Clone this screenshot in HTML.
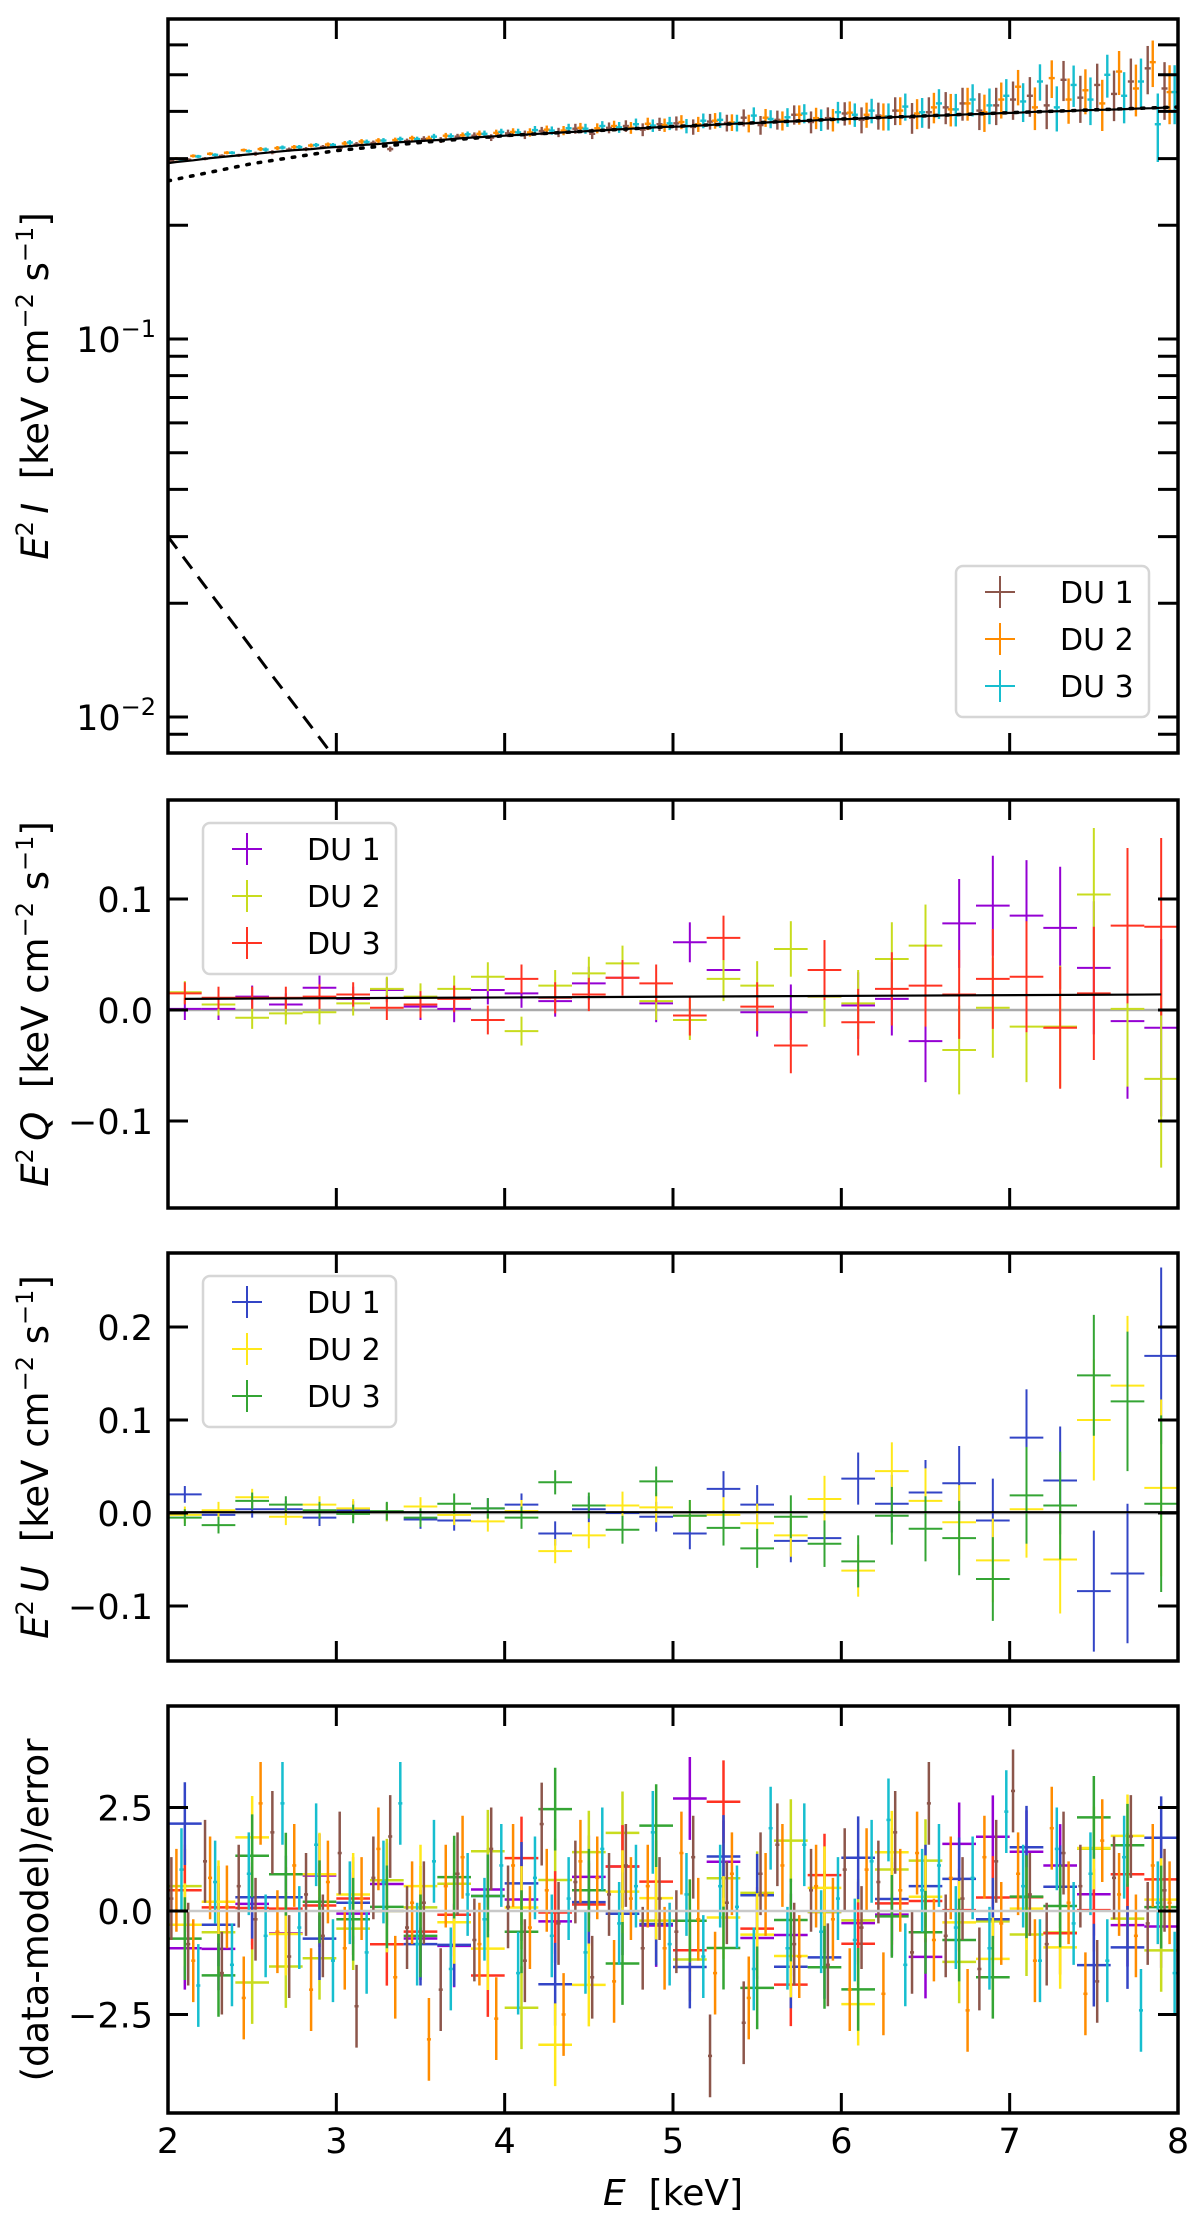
<!DOCTYPE html>
<html><head><meta charset="utf-8">
<style>
html,body{margin:0;padding:0;background:#fff;}
svg{display:block;font-family:"DejaVu Sans","Liberation Sans",sans-serif;}
</style></head>
<body>
<svg id="fig" width="1200" height="2221" viewBox="0 0 1200 2221" xmlns="http://www.w3.org/2000/svg">
<defs>
<clipPath id="c1"><rect x="168" y="19" width="1010" height="734"/></clipPath>
<clipPath id="c2"><rect x="168" y="800" width="1010" height="408"/></clipPath>
<clipPath id="c3"><rect x="168" y="1253" width="1010" height="408"/></clipPath>
<clipPath id="c4"><rect x="168" y="1706" width="1010" height="407"/></clipPath>
</defs>
</svg>
<script>
// ---------- data ----------
const energyI = [2.05,2.15,2.25,2.35,2.45,2.55,2.65,2.75,2.85,2.95,3.05,3.15,3.25,3.35,3.45,3.55,3.65,3.75,3.85,3.95,4.05,4.15,4.25,4.35,4.45,4.55,4.65,4.75,4.85,4.95,5.05,5.15,5.25,5.35,5.45,5.55,5.65,5.75,5.85,5.95,6.05,6.15,6.25,6.35,6.45,6.55,6.65,6.75,6.85,6.95,7.05,7.15,7.25,7.35,7.45,7.55,7.65,7.75,7.85,7.95];
const modelI = [.294,.297,.301,.304,.307,.310,.313,.316,.318,.321,.323,.326,.328,.331,.333,.335,.337,.340,.342,.344,.346,.348,.350,.352,.354,.356,.358,.360,.362,.364,.365,.367,.369,.371,.372,.374,.376,.377,.379,.381,.382,.384,.385,.387,.388,.390,.391,.393,.394,.396,.397,.399,.400,.401,.403,.404,.405,.407,.408,.410];
const iDU1 = [.296,.298,.300,.305,.306,.309,.312,.317,.318,.322,.320,.327,.330,.318,.334,.338,.336,.343,.345,.341,.350,.347,.355,.352,.360,.349,.362,.366,.358,.370,.372,.364,.376,.373,.385,.368,.380,.392,.375,.384,.395,.380,.390,.402,.385,.398,.410,.420,.402,.415,.430,.440,.415,.485,.435,.470,.445,.480,.520,.460];
const iDU2 = [.300,.305,.309,.311,.316,.318,.320,.322,.325,.327,.329,.333,.335,.336,.340,.339,.345,.346,.349,.351,.353,.352,.358,.356,.362,.361,.366,.362,.371,.368,.375,.370,.378,.374,.372,.385,.378,.392,.384,.380,.397,.392,.388,.402,.395,.410,.405,.420,.398,.430,.465,.410,.490,.430,.455,.420,.510,.460,.540,.450];
const iDU3 = [.299,.304,.307,.311,.314,.317,.321,.322,.326,.326,.331,.332,.335,.338,.338,.343,.344,.348,.349,.353,.352,.357,.356,.361,.360,.366,.363,.370,.367,.372,.366,.378,.380,.373,.390,.382,.386,.395,.380,.398,.392,.402,.388,.412,.398,.420,.405,.430,.415,.440,.425,.480,.410,.470,.430,.500,.440,.480,.370,.450];
const errI = [.003,.003,.003,.003,.003,.004,.004,.004,.004,.004,.005,.005,.005,.005,.005,.006,.006,.006,.007,.007,.008,.009,.009,.010,.011,.011,.012,.013,.014,.015,.016,.017,.018,.019,.020,.021,.022,.023,.025,.026,.028,.030,.032,.034,.036,.038,.040,.042,.045,.047,.050,.053,.056,.059,.062,.065,.068,.072,.076,.080];
const dottedE = [2.0,2.5,3.0,3.5,4.0,5.0,6.0,7.0,8.0];
const dottedV = [0.262,0.291,0.315,0.331,0.345,0.365,0.382,0.397,0.411];
const dashedE = [2.0,2.2,2.4,2.6,2.8,3.0];
const dashedV = [0.030,0.0228,0.0174,0.0132,0.0101,0.0077];

const energyP = [2.1,2.3,2.5,2.7,2.9,3.1,3.3,3.5,3.7,3.9,4.1,4.3,4.5,4.7,4.9,5.1,5.3,5.5,5.7,5.9,6.1,6.3,6.5,6.7,6.9,7.1,7.3,7.5,7.7,7.9];
const qDU1 = [0.001,0.001,0.012,0.005,0.020,0.010,0.018,0.003,0.001,0.018,0.015,0.008,0.024,0.029,0.006,0.061,0.036,-0.002,-0.002,0.012,0.004,0.010,-0.028,0.078,0.094,0.085,0.074,0.038,-0.010,-0.016];
const qDU2 = [0.016,0.005,-0.007,-0.003,-0.002,0.006,0.019,0.012,0.019,0.030,-0.019,0.022,0.033,0.042,0.008,-0.009,0.028,0.022,0.055,0.012,0.006,0.046,0.058,-0.036,0.002,-0.015,-0.015,0.104,0.001,-0.062];
const qDU3 = [0.015,0.011,0.011,0.011,0.012,0.014,0.002,0.005,0.010,-0.009,0.028,0.011,0.014,0.029,0.024,-0.005,0.065,0.003,-0.032,0.036,-0.011,0.019,0.022,0.014,0.028,0.030,-0.016,0.015,0.076,0.075];
const qErr = [.010,.010,.010,.010,.011,.011,.011,.012,.012,.013,.013,.014,.015,.016,.017,.018,.020,.022,.025,.027,.030,.033,.037,.040,.045,.050,.055,.060,.070,.080];
const qModelE = [2.1,7.9];
const qModelV = [0.010,0.014];
const uDU1 = [0.020,-0.002,0.004,0.004,-0.005,0.003,0.001,-0.007,-0.008,0.005,0.009,-0.022,0.004,0.000,-0.004,-0.022,0.026,0.009,-0.030,-0.027,0.037,0.010,0.022,0.032,-0.008,0.081,0.035,-0.084,-0.065,0.169];
const uDU2 = [-0.002,0.003,0.017,-0.004,0.009,0.005,0.001,0.007,-0.002,-0.009,0.002,-0.041,-0.024,0.008,0.006,-0.003,-0.002,-0.011,-0.024,0.015,-0.062,0.045,0.013,-0.010,-0.051,0.004,-0.050,0.100,0.137,0.027];
const uDU3 = [-0.005,-0.013,0.013,0.009,0.003,-0.001,0.002,-0.005,0.010,0.005,-0.005,0.033,0.008,-0.018,0.034,-0.003,-0.016,-0.038,-0.004,-0.033,-0.052,-0.003,-0.017,-0.027,-0.071,0.019,0.008,0.148,0.120,0.010];
const uErr = [.009,.009,.009,.009,.009,.010,.010,.010,.011,.011,.012,.013,.014,.015,.016,.017,.019,.021,.023,.025,.028,.031,.035,.040,.045,.052,.058,.065,.075,.095];
const uModelV = [0.001,0.001];

const resI1 = [0.3,-0.8,1.2,-1.5,0.6,-0.2,1.9,-1.1,0.4,-0.6,1.4,-2.3,0.8,1.8,-0.4,0.2,-1.9,0.9,-0.7,1.5,0.1,-1.2,2.1,-0.3,0.7,-1.6,0.4,1.1,-0.9,0.3,-0.5,1.3,-3.5,0.2,-2.7,0.9,1.6,-0.8,0.5,-1.3,1.0,-0.4,0.7,1.9,-1.0,2.6,-0.6,0.3,-1.4,1.2,2.9,0.4,-0.8,1.4,0.6,-1.7,0.8,1.8,-0.3,0.5];
const resI2 = [0.5,-1.2,0.8,0.1,-2.1,2.6,-0.5,1.1,-1.9,0.7,-0.9,0.3,1.5,-1.6,0.2,-3.1,0.6,1.3,-0.8,-2.6,1.1,-0.4,0.5,-2.5,1.2,0.8,-1.7,0.3,0.6,-0.9,1.4,-0.2,-1.5,0.9,-2.1,0.4,1.1,-1.1,0.6,-0.2,-1.9,1.0,-2.0,0.5,1.4,-0.7,0.8,-2.4,1.3,-0.3,0.9,-1.2,2.0,0.2,-2.0,1.7,0.4,-0.6,1.1,0.2];
const resI3 = [1.0,-1.8,0.7,-1.3,0.9,-0.6,2.6,-0.4,1.6,-1.2,0.2,-1.0,0.7,2.6,-0.8,1.2,-1.4,0.4,-0.2,1.1,-1.5,0.8,-0.6,0.3,-1.0,1.5,-0.3,0.6,1.9,-0.8,0.4,-1.1,0.6,0.1,-1.4,2.0,-0.9,1.6,-0.5,0.3,-0.7,1.2,2.2,-1.3,0.5,1.1,-0.4,0.8,-0.9,2.4,0.6,-1.2,1.5,-0.3,0.9,-1.2,1.3,-2.4,0.2,-1.5];

const xTicks = [2,3,4,5,6,7,8];
const qTicks = [-0.1,0.0,0.1];
const uTicks = [-0.1,0.0,0.1,0.2];
const rTicks = [-2.5,0.0,2.5];
const logMajor = [0.01,0.1];
const logMinor = [0.009,0.02,0.03,0.04,0.05,0.06,0.07,0.08,0.09,0.2,0.3,0.4,0.5,0.6];

// ---------- scales ----------
const X0=168, X1=1178;
const xS = e => X0 + (e-2)*(X1-X0)/6;
const yI = v => 339 - (Math.log10(v)+1)*378;
const yQ = v => 1010 - v*1110;
const yU = v => 1513 - v*930;
const yR = v => 1911 - v*41.4;
const P = [{t:19,b:753,c:'c1'},{t:800,b:1208,c:'c2'},{t:1253,b:1661,c:'c3'},{t:1706,b:2113,c:'c4'}];
const COL = {brown:'#8c564b',orange:'#ff8c00',cyan:'#17becf',purple:'#9400d3',olive:'#c8dc1e',red:'#ff3322',blue:'#3345c6',yellow:'#ffe81a',green:'#34a534'};

const svg = document.getElementById('fig');
const NS='http://www.w3.org/2000/svg';
function mk(tag, attrs, parent){const e=document.createElementNS(NS,tag);for(const k in attrs)e.setAttribute(k,attrs[k]);(parent||svg).appendChild(e);return e;}
function grp(name, clip){const g=mk('g',clip?{'clip-path':'url(#'+clip+')'}:{});return g;}
function cross(g,x,y,x0,x1,y0,y1,col,w){
  mk('line',{x1:x0,y1:y,x2:x1,y2:y,stroke:col,'stroke-width':w},g);
  mk('line',{x1:x,y1:y0,x2:x,y2:y1,stroke:col,'stroke-width':w},g);
}
function interp(xs,ys,x){if(x<=xs[0])return ys[0];for(let i=1;i<xs.length;i++){if(x<=xs[i]){const t=(x-xs[i-1])/(xs[i]-xs[i-1]);return ys[i-1]+t*(ys[i]-ys[i-1]);}}return ys[ys.length-1];}
const duShift=[-0.03,0,0.03];

// ---------- panel 1: I ----------
const g1 = grp('intensity-panel-data','c1');
[[iDU1,COL.brown,'i-du1'],[iDU2,COL.orange,'i-du2'],[iDU3,COL.cyan,'i-du3']].forEach((s,si)=>{
  const g=mk('g',{},g1);
  
  
  s[0].forEach((v,i)=>{const e=energyI[i]+duShift[si];cross(g,xS(e),yI(v),xS(e-0.018),xS(e+0.018),yI(v+errI[i]),yI(Math.max(v-errI[i],0.001)),s[1],2.4);});
});
let d='';energyI.forEach((e,i)=>{d+=(i?'L':'M')+xS(e).toFixed(1)+' '+yI(modelI[i]).toFixed(1);});
const ml=mk('path',{d:'M'+X0+' '+yI(0.292).toFixed(1)+d.replace('M','L'),fill:'none',stroke:'#000','stroke-width':2.2},g1);

d='';dottedE.forEach((e,i)=>{d+=(i?'L':'M')+xS(e).toFixed(1)+' '+yI(dottedV[i]).toFixed(1);});
const dl=mk('path',{d:d,fill:'none',stroke:'#000','stroke-width':3.5,'stroke-dasharray':'2.5,9','stroke-linecap':'round'},g1);

d='';dashedE.forEach((e,i)=>{d+=(i?'L':'M')+xS(e).toFixed(1)+' '+yI(dashedV[i]).toFixed(1);});
const dsl=mk('path',{d:d,fill:'none',stroke:'#000','stroke-width':3,'stroke-dasharray':'15,10'},g1);


// ---------- panel 2: Q ----------
const g2 = grp('q-panel-data','c2');
mk('line',{x1:X0,y1:yQ(0),x2:X1,y2:yQ(0),stroke:'#aaa','stroke-width':2.5},g2);
[[qDU1,COL.purple,'q-du1'],[qDU2,COL.olive,'q-du2'],[qDU3,COL.red,'q-du3']].forEach(s=>{
  const g=mk('g',{},g2);
  
  
  s[0].forEach((v,i)=>{const e=energyP[i];cross(g,xS(e),yQ(v),xS(e-0.1),xS(e+0.1),yQ(v+qErr[i]),yQ(v-qErr[i]),s[1],2);});
});
const qm=mk('line',{x1:xS(qModelE[0]),y1:yQ(qModelV[0]),x2:xS(qModelE[1]),y2:yQ(qModelV[1]),stroke:'#000','stroke-width':2.2},g2);


// ---------- panel 3: U ----------
const g3 = grp('u-panel-data','c3');
mk('line',{x1:X0,y1:yU(0),x2:X1,y2:yU(0),stroke:'#aaa','stroke-width':2.5},g3);
[[uDU1,COL.blue,'u-du1'],[uDU2,COL.yellow,'u-du2'],[uDU3,COL.green,'u-du3']].forEach(s=>{
  const g=mk('g',{},g3);
  
  
  s[0].forEach((v,i)=>{const e=energyP[i];cross(g,xS(e),yU(v),xS(e-0.1),xS(e+0.1),yU(v+uErr[i]),yU(v-uErr[i]),s[1],2);});
});
const um=mk('line',{x1:X0,y1:yU(uModelV[0]),x2:X1,y2:yU(uModelV[1]),stroke:'#000','stroke-width':2},g3);


// ---------- panel 4: residuals ----------
const g4 = grp('residual-panel-data','c4');
[[qDU1,COL.purple,qErr,qModelV,'res-q-du1'],[qDU2,COL.olive,qErr,qModelV,'res-q-du2'],[qDU3,COL.red,qErr,qModelV,'res-q-du3'],
 [uDU1,COL.blue,uErr,uModelV,'res-u-du1'],[uDU2,COL.yellow,uErr,uModelV,'res-u-du2'],[uDU3,COL.green,uErr,uModelV,'res-u-du3']].forEach(s=>{
  const g=mk('g',{},g4);
  
  
  s[0].forEach((v,i)=>{const e=energyP[i];const r=(v-interp(qModelE,s[3],e))/s[2][i];cross(g,xS(e),yR(r),xS(e-0.1),xS(e+0.1),yR(r+1),yR(r-1),s[1],2.5);});
});
[[resI1,COL.brown,'res-i-du1'],[resI2,COL.orange,'res-i-du2'],[resI3,COL.cyan,'res-i-du3']].forEach((s,si)=>{
  const g=mk('g',{},g4);
  
  
  s[0].forEach((r,i)=>{const e=energyI[i]+duShift[si];cross(g,xS(e),yR(r),xS(e-0.012),xS(e+0.012),yR(r+1),yR(r-1),s[1],2.5);});
});
mk('line',{x1:X0,y1:yR(0),x2:X1,y2:yR(0),stroke:'#c8c8c8','stroke-width':2.5},g4);

// ---------- axes ----------
const TL=20;
function frame(p,name){const r=mk('rect',{x:X0,y:p.t,width:X1-X0,height:p.b-p.t,fill:'none',stroke:'#000','stroke-width':3.5});}
function xticks(p){xTicks.forEach(t=>{const x=xS(t);mk('line',{x1:x,y1:p.b,x2:x,y2:p.b-TL,stroke:'#000','stroke-width':3});mk('line',{x1:x,y1:p.t,x2:x,y2:p.t+TL,stroke:'#000','stroke-width':3});});}
function yticks(list,f,labelFn){list.forEach(t=>{const y=f(t);mk('line',{x1:X0,y1:y,x2:X0+TL,y2:y,stroke:'#000','stroke-width':3});mk('line',{x1:X1,y1:y,x2:X1-TL,y2:y,stroke:'#000','stroke-width':3});if(labelFn)labelFn(t,y);});}
function tlabel(txt,x,y,anchor,name){const e=mk('text',{x:x,y:y,'font-size':35,'text-anchor':anchor,fill:'#000'});e.textContent=txt;return e;}
const fmt=v=>(v<0?'\u2212':'')+Math.abs(v).toFixed(1);

P.forEach((p,i)=>{frame(p,'panel-'+(i+1)+'-frame');xticks(p);});
yticks(logMinor,yI,null);
yticks(logMajor,yI,(t,y)=>{const e=tlabel('10',156,y+13,'end','y-tick-label');const s=mk('tspan',{dy:-15,'font-size':24},e);s.textContent=t===0.1?'\u22121':'\u22122';});
yticks(qTicks,yQ,(t,y)=>tlabel(fmt(t),153,y+13,'end','q-tick-label'));
yticks(uTicks,yU,(t,y)=>tlabel(fmt(t),153,y+13,'end','u-tick-label'));
yticks(rTicks,yR,(t,y)=>tlabel(fmt(t),153,y+13,'end','residual-tick-label'));
xTicks.forEach(t=>tlabel(String(t),xS(t),2153,'middle','x-tick-label'));

// axis titles
function ytitle(cx,cy,parts,name){const e=mk('text',{x:0,y:0,'font-size':37,'text-anchor':'middle',transform:'translate('+cx+','+cy+') rotate(-90)'});
 parts.forEach(p=>{const s=mk('tspan',p.a||{},e);s.textContent=p.t;});return e;}
function unitParts(sym){return [{t:'E',a:{'font-style':'italic'}},{t:'2',a:{dy:-15,'font-size':24}},{t:'\u2009'+sym,a:{dy:15,'font-style':'italic'}},{t:'\u00a0\u00a0[keV cm'},{t:'\u22122',a:{dy:-15,'font-size':24}},{t:' s',a:{dy:15}},{t:'\u22121',a:{dy:-15,'font-size':24}},{t:']',a:{dy:15}}];}
ytitle(48,386,unitParts('I'),'y-axis-title-intensity');
ytitle(48,1004,unitParts('Q'),'y-axis-title-q');
ytitle(48,1457,unitParts('U'),'y-axis-title-u');
ytitle(48,1910,[{t:'(data-model)/error'}],'y-axis-title-residual');
const xt=mk('text',{x:xS(5),y:2205,'font-size':36,'text-anchor':'middle'});
const xt1=mk('tspan',{'font-style':'italic'},xt);xt1.textContent='E';const xt2=mk('tspan',{},xt);xt2.textContent='\u00a0\u00a0[keV]';

// legends
function legend(x,y,w,h,entries,name){const g=mk('g',{});
 mk('rect',{x:x,y:y,width:w,height:h,rx:7,fill:'#fff','fill-opacity':0.85,stroke:'#d6d6d6','stroke-width':2.5},g);
 entries.forEach((en,i)=>{const cy=y+26+i*47;const cx=x+44;
   const it=mk('g',{},g);
   cross(it,cx,cy,cx-15,cx+15,cy-16,cy+16,en[1],2);
   const t=mk('text',{x:x+104,y:cy+11,'font-size':30},it);t.textContent=en[0];});
}
legend(956,566,193,151,[['DU 1',COL.brown],['DU 2',COL.orange],['DU 3',COL.cyan]],'legend-intensity');
legend(203,823,193,151,[['DU 1',COL.purple],['DU 2',COL.olive],['DU 3',COL.red]],'legend-q');
legend(203,1276,193,151,[['DU 1',COL.blue],['DU 2',COL.yellow],['DU 3',COL.green]],'legend-u');
</script>
</body></html>
